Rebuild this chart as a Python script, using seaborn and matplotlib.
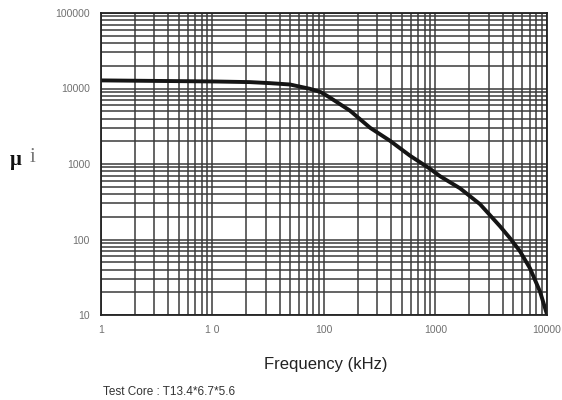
import matplotlib
matplotlib.use("Agg")
import matplotlib.pyplot as plt
import seaborn as sns
import pandas as pd
import numpy as np

# permeability curve
freq_khz = [1, 10, 21.7, 32.8, 49.5, 74.9, 94, 113, 171, 259, 391, 590, 892, 1097,
            1658, 2505, 3786, 4660, 5720, 7040, 8660, 10000]
mu_i = [12800, 12400, 12150, 11770, 11300, 9900, 8930, 7580, 5090, 3020, 2030, 1290, 865, 690,
        477, 294, 150, 104, 70, 41.5, 20.4, 10.2]

x_ticks = [1, 10, 100, 1000, 10000]
x_labels = ["1", "1 0", "100", "1000", "10000"]
y_ticks = [10, 100, 1000, 10000, 100000]
y_labels = ["10", "100", "1000", "10000", "100000"]

df = pd.DataFrame({"freq": freq_khz, "mu": mu_i})

sns.set_style("white")
plt.rcParams["font.family"] = ["Liberation Sans", "DejaVu Sans"]

fig = plt.figure(figsize=(5.62, 4.0), dpi=100)
ax = fig.add_axes([0.1797, 0.2125, 0.7936, 0.755])

sns.lineplot(data=df, x="freq", y="mu", ax=ax, color="#151515", linewidth=2.8)

ax.set_xscale("log")
ax.set_yscale("log")
ax.set_xlim(1, 10000)
ax.set_ylim(10, 100000)

ax.xaxis.set_minor_locator(matplotlib.ticker.LogLocator(base=10, subs=np.arange(2, 10)))
ax.yaxis.set_minor_locator(matplotlib.ticker.LogLocator(base=10, subs=np.arange(2, 10)))
ax.grid(True, which="both", color="#3a3a3a", linewidth=1.1)
ax.set_axisbelow(True)

ax.set_xticks(x_ticks)
ax.set_xticklabels(x_labels)
ax.set_yticks(y_ticks)
ax.set_yticklabels(y_labels)
ax.xaxis.set_minor_formatter(matplotlib.ticker.NullFormatter())
ax.yaxis.set_minor_formatter(matplotlib.ticker.NullFormatter())
ax.tick_params(axis="both", which="both", length=0, labelsize=7.5, labelcolor="#707070")
ax.tick_params(axis="x", pad=7)
ax.tick_params(axis="y", pad=8)

for s in ax.spines.values():
    s.set_color("#222222")
    s.set_linewidth(1.3)

ax.set_xlabel("")
ax.set_ylabel("")

fig.text(326 / 562, 1 - 364 / 400, "Frequency (kHz)", fontsize=12,
         ha="center", va="center", color="#222222")
fig.text(103 / 562, 1 - 392 / 400, "Test Core : T13.4*6.7*5.6", fontsize=8.5,
         ha="left", va="center", color="#333333")
fig.text(10 / 562, 1 - 160 / 400, "μ", fontsize=15, fontweight="bold",
         family=["Liberation Serif", "DejaVu Serif"], ha="left", va="center", color="#111111")
fig.text(30 / 562, 1 - 158 / 400, "i", fontsize=15,
         family=["Liberation Serif", "DejaVu Serif"], ha="left", va="center", color="#777777")

fig.savefig("out.png", dpi=100)
